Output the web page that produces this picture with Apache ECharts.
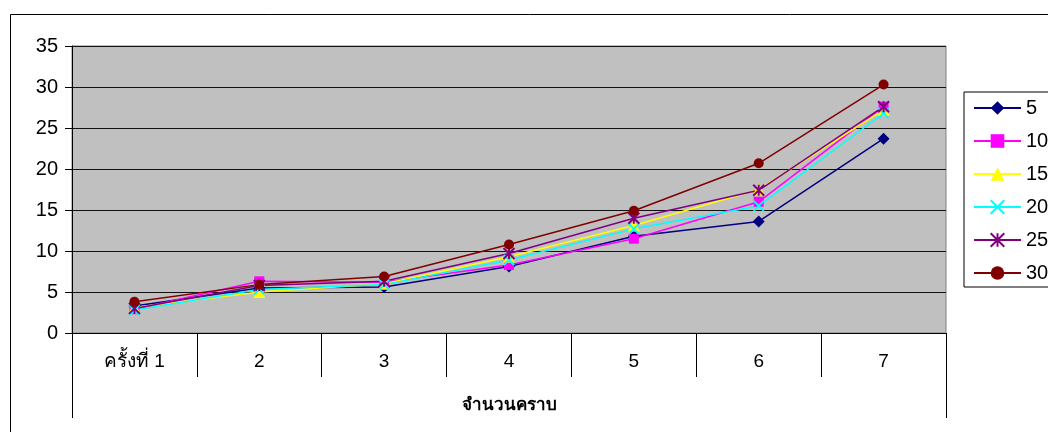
<!DOCTYPE html>
<html>
<head>
<meta charset="utf-8">
<script src="https://cdn.jsdelivr.net/npm/echarts@6/dist/echarts.min.js"></script>
<style>
html,body{margin:0;padding:0;background:#fff;}
#c{width:1048px;height:432px;}
</style>
</head>
<body>
<div id="c"></div>
<script>
const categories = ['ครั้งที่ 1', '2', '3', '4', '5', '6', '7'];
const axisTitle = 'จำนวนคราบ';
const seriesNames = ['5', '10', '15', '20', '25', '30'];
const s5  = [3.3, 5.5, 5.6, 8.1, 11.8, 13.6, 23.7];
const s10 = [2.9, 6.3, 6.2, 8.3, 11.5, 16.0, 27.6];
const s15 = [3.1, 5.0, 6.0, 9.3, 13.1, 17.5, 27.2];
const s20 = [2.8, 5.3, 5.9, 8.9, 12.7, 15.5, 26.8];
const s25 = [3.0, 5.8, 6.3, 9.7, 14.0, 17.4, 27.6];
const s30 = [3.8, 5.9, 6.9, 10.8, 14.9, 20.7, 30.3];
const yTicks = [0, 5, 10, 15, 20, 25, 30, 35];

const FONT = "'Liberation Sans', Arial, 'Noto Sans', sans-serif";
const dataSets = [s5, s10, s15, s20, s25, s30];
const colors = ['#000080', '#FF00FF', '#FFFF00', '#00FFFF', '#800080', '#800000'];
const symbols = ['diamond', 'rect', 'triangle',
  'path://M0,0L10,10M10,0L0,10',
  'path://M0,0L10,10M10,0L0,10M5,0L5,10',
  'circle'];
const sizes = [12, 10, 12, 10, 11, 10];

const chart = echarts.init(document.getElementById('c'), null, {renderer: 'canvas'});
chart.setOption({
  animation: false,
  backgroundColor: '#fff',
  textStyle: {fontFamily: FONT},
  graphic: [{
    type: 'rect', left: 10, top: 14, z: -10,
    shape: {width: 1100, height: 500},
    style: {fill: '#fff', stroke: '#000', lineWidth: 1}
  }],
  grid: {left: 72, top: 46, right: 102, bottom: 99, show: true,
    backgroundColor: '#C0C0C0', borderColor: '#808080', borderWidth: 1},
  legend: {
    orient: 'vertical', left: 964, top: 92,
    padding: [6, 40, 4, 9],
    borderColor: '#000', borderWidth: 1, backgroundColor: '#fff',
    itemWidth: 47, itemHeight: 17, itemGap: 13,
    textStyle: {fontSize: 20, color: '#000', fontFamily: FONT},
    data: seriesNames
  },
  xAxis: [{
    type: 'category', data: categories, boundaryGap: true, position: 'bottom',
    axisLine: {show: true, lineStyle: {color: '#000', width: 1}},
    axisTick: {show: true, length: 44, interval: 0, lineStyle: {color: '#000'}},
    axisLabel: {fontSize: 19, color: '#000', margin: 19, fontFamily: FONT, interval: 0},
    splitLine: {show: false}
  }, {
    type: 'category', data: [axisTitle], boundaryGap: true, position: 'bottom',
    axisLine: {show: false},
    axisTick: {show: true, length: 85, lineStyle: {color: '#000'}},
    axisLabel: {fontSize: 17, fontWeight: 'bold', color: '#000', margin: 64, fontFamily: FONT},
    splitLine: {show: false}
  }],
  yAxis: {
    type: 'value', min: yTicks[0], max: yTicks[yTicks.length - 1], interval: 5,
    axisLine: {show: true, lineStyle: {color: '#000'}},
    axisTick: {show: true, length: 7, lineStyle: {color: '#000'}},
    axisLabel: {fontSize: 20, color: '#000', margin: 14, fontFamily: FONT},
    splitLine: {show: true, lineStyle: {color: '#111', width: 1}}
  },
  series: dataSets.map((d, i) => ({
    name: seriesNames[i], type: 'line', data: d, xAxisIndex: 0,
    symbol: symbols[i], symbolSize: sizes[i], showAllSymbol: true,
    lineStyle: {color: colors[i], width: 1.5},
    itemStyle: {color: colors[i], borderColor: colors[i], borderWidth: (i === 3 || i === 4) ? 2 : 0},
    emphasis: {disabled: true}
  }))
});
</script>
</body>
</html>
